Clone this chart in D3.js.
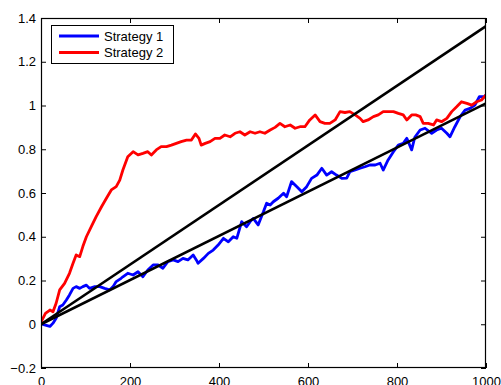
<!DOCTYPE html>
<html>
<head>
<meta charset="utf-8">
<script src="https://cdn.jsdelivr.net/npm/d3@7"></script>
<style>
  html, body { margin: 0; padding: 0; background: #fff; }
  svg { display: block; }
  text { font-family: "Liberation Sans", Arial, Helvetica, sans-serif; fill: #000; }
</style>
</head>
<body>
<svg id="chart" width="501" height="385"></svg>
<script>
// Cumulative performance of two strategies over 1000 periods
const blueIdx = [0, 8, 20, 27, 34, 42, 49, 57, 64, 72, 79, 87, 94, 102, 109, 121, 132, 143, 154, 162, 169, 180, 184, 195, 207, 218, 229, 240, 252, 263, 274, 285, 297, 308, 319, 330, 342, 349, 353, 365, 376, 387, 398, 410, 421, 432, 440, 451, 462, 470, 477, 488, 500, 507, 515, 522, 533, 545, 552, 563, 575, 586, 597, 608, 620, 631, 642, 653, 664, 676, 687, 694, 706, 717, 728, 739, 751, 762, 769, 780, 792, 803, 814, 822, 833, 840, 852, 863, 878, 889, 900, 912, 919, 930, 942, 953, 964, 975, 985, 998, 1000];
const blueVal = [0.004, -0.003, -0.01, 0.005, 0.027, 0.08, 0.088, 0.111, 0.134, 0.164, 0.172, 0.164, 0.172, 0.179, 0.164, 0.172, 0.172, 0.164, 0.157, 0.172, 0.195, 0.21, 0.217, 0.233, 0.225, 0.24, 0.217, 0.248, 0.271, 0.271, 0.256, 0.286, 0.294, 0.286, 0.301, 0.294, 0.317, 0.294, 0.279, 0.301, 0.324, 0.339, 0.362, 0.393, 0.377, 0.40, 0.393, 0.469, 0.446, 0.469, 0.484, 0.454, 0.515, 0.553, 0.545, 0.56, 0.576, 0.599, 0.583, 0.652, 0.629, 0.606, 0.629, 0.667, 0.682, 0.713, 0.682, 0.697, 0.682, 0.667, 0.668, 0.697, 0.705, 0.713, 0.72, 0.728, 0.728, 0.736, 0.705, 0.751, 0.789, 0.819, 0.827, 0.85, 0.797, 0.855, 0.888, 0.896, 0.873, 0.888, 0.896, 0.873, 0.857, 0.903, 0.949, 0.979, 0.987, 1.002, 1.04, 1.04, 1.05];

const redIdx = [0, 10, 20, 27, 34, 42, 53, 64, 72, 79, 87, 94, 102, 113, 124, 136, 147, 158, 169, 177, 184, 195, 207, 218, 229, 240, 248, 259, 270, 282, 293, 304, 315, 327, 338, 347, 355, 360, 369, 380, 391, 402, 413, 425, 436, 447, 458, 470, 481, 492, 503, 515, 526, 537, 548, 560, 571, 582, 593, 604, 616, 627, 638, 649, 661, 672, 683, 694, 706, 717, 724, 735, 747, 758, 769, 780, 792, 803, 814, 822, 833, 842, 852, 859, 870, 882, 889, 900, 912, 923, 934, 945, 957, 968, 979, 990, 1000];
const redVal = [0.01, 0.05, 0.065, 0.057, 0.096, 0.157, 0.187, 0.233, 0.279, 0.317, 0.309, 0.355, 0.40, 0.446, 0.492, 0.537, 0.576, 0.614, 0.629, 0.659, 0.705, 0.766, 0.789, 0.774, 0.781, 0.789, 0.774, 0.797, 0.812, 0.812, 0.819, 0.827, 0.835, 0.842, 0.842, 0.87, 0.85, 0.819, 0.827, 0.835, 0.85, 0.85, 0.865, 0.857, 0.873, 0.88, 0.865, 0.88, 0.873, 0.88, 0.873, 0.888, 0.9, 0.918, 0.903, 0.911, 0.896, 0.903, 0.903, 0.934, 0.957, 0.926, 0.918, 0.918, 0.934, 0.972, 0.968, 0.972, 0.957, 0.941, 0.926, 0.934, 0.949, 0.957, 0.972, 0.972, 0.972, 0.964, 0.957, 0.934, 0.957, 0.957, 0.949, 0.918, 0.918, 0.911, 0.934, 0.926, 0.941, 0.972, 0.994, 1.017, 1.01, 1.002, 1.017, 1.025, 1.048];

// Straight reference lines through the origin (start / end values)
const trendIdx = [0, 1000];
const trendSteep = [0, 1.363];
const trendShallow = [0, 1.01];

const seriesNames = ["Strategy 1", "Strategy 2"];
const seriesColors = ["#0000ff", "#ff0000"];
const xTicks = [0, 200, 400, 600, 800, 1000];
const yTicks = [-0.2, 0, 0.2, 0.4, 0.6, 0.8, 1, 1.2, 1.4];

const svg = d3.select("#chart");
const padL = 41, padR = 486, padT = 18, padB = 368;

const x = d3.scaleLinear().domain([0, 1000]).range([padL, padR]);
const y = d3.scaleLinear().domain([-0.2, 1.4]).range([padB, padT]);

const fmtY = v => v < 0 ? "\u2212" + Math.abs(v) : String(+v.toFixed(1));

// Axes with inward ticks on all four sides
const ax = svg.append("g").attr("class", "axes");
ax.append("g").attr("transform", `translate(0,${padB})`)
  .call(d3.axisBottom(x).tickValues(xTicks).tickSize(-5).tickPadding(9).tickFormat(d3.format("d")));
ax.append("g").attr("transform", `translate(0,${padT})`)
  .call(d3.axisTop(x).tickValues(xTicks).tickSize(-5).tickFormat(""));
ax.append("g").attr("transform", `translate(${padL},0)`)
  .call(d3.axisLeft(y).tickValues(yTicks).tickSize(-5).tickPadding(5).tickFormat(fmtY));
ax.append("g").attr("transform", `translate(${padR},0)`)
  .call(d3.axisRight(y).tickValues(yTicks).tickSize(-5).tickFormat(""));
ax.selectAll(".domain").remove();
ax.selectAll(".tick line").attr("stroke", "#000").attr("stroke-width", 1);
ax.selectAll(".tick text").attr("font-size", 13).attr("font-family", "Liberation Sans, Arial, sans-serif");

// Clip path for data
svg.append("clipPath").attr("id", "plotclip")
  .append("rect").attr("x", padL).attr("y", padT).attr("width", padR - padL).attr("height", padB - padT);

const line = d3.line().x(d => x(d[0])).y(d => y(d[1]));
const plot = svg.append("g").attr("clip-path", "url(#plotclip)");

const blue = blueIdx.map((d, i) => [d, blueVal[i]]);
const red = redIdx.map((d, i) => [d, redVal[i]]);

plot.append("path").datum(blue).attr("d", line)
  .attr("fill", "none").attr("stroke", seriesColors[0]).attr("stroke-width", 2.8).attr("stroke-linejoin", "round");
plot.append("path").datum(red).attr("d", line)
  .attr("fill", "none").attr("stroke", seriesColors[1]).attr("stroke-width", 2.8).attr("stroke-linejoin", "round");

[trendSteep, trendShallow].forEach(vals => {
  plot.append("path").datum(trendIdx.map((d, i) => [d, vals[i]])).attr("d", line)
    .attr("fill", "none").attr("stroke", "#000").attr("stroke-width", 2.6);
});

// Axis box
svg.append("rect").attr("x", padL + 0.5).attr("y", padT + 0.5)
  .attr("width", padR - padL - 1).attr("height", padB - padT - 1)
  .attr("fill", "none").attr("stroke", "#000").attr("stroke-width", 1.2);

// Legend
const lg = svg.append("g").attr("transform", "translate(51,25)");
lg.append("rect").attr("x", 0.5).attr("y", 0.5).attr("width", 122).attr("height", 38)
  .attr("fill", "#fff").attr("stroke", "#000").attr("stroke-width", 1);
seriesNames.forEach((name, i) => {
  const cy = 11 + i * 16.6;
  lg.append("line").attr("x1", 8).attr("x2", 48).attr("y1", cy).attr("y2", cy)
    .attr("stroke", seriesColors[i]).attr("stroke-width", 3);
  lg.append("text").attr("x", 53).attr("y", cy).attr("dy", "0.35em")
    .attr("font-size", 13).text(name);
});
</script>
</body>
</html>
